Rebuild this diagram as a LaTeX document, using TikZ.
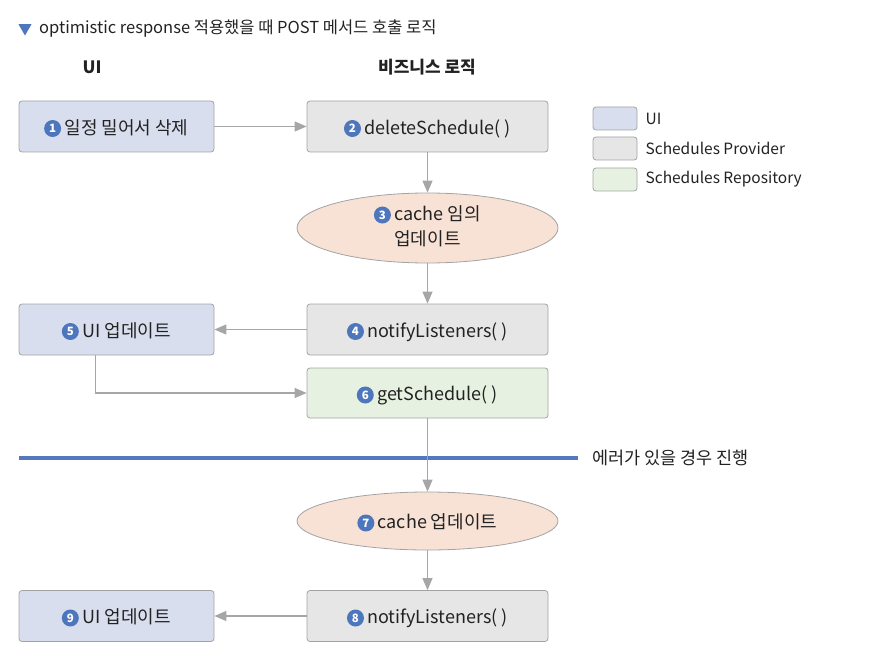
\documentclass[tikz,border=0pt]{standalone}
\usepackage{fontspec}
\setmainfont{Noto Sans CJK KR}
\usetikzlibrary{shapes.geometric,arrows.meta}
\definecolor{uifill}{HTML}{D9DEEF}
\definecolor{provfill}{HTML}{E6E6E6}
\definecolor{repofill}{HTML}{E7F1E1}
\definecolor{cachefill}{HTML}{F8E1D5}
\definecolor{edgegray}{HTML}{A6A6A6}
\definecolor{boxborder}{HTML}{A3A3A3}
\definecolor{numblue}{HTML}{4E76BD}
\definecolor{lineblue}{HTML}{5478BE}
\definecolor{txt}{HTML}{222222}
\tikzset{
  boxbase/.style={draw=boxborder,line width=0.8pt,rounded corners=3pt,minimum height=51pt,inner sep=0pt},
  uibox/.style={boxbase,fill=uifill,minimum width=195pt},
  provbox/.style={boxbase,fill=provfill,minimum width=241pt},
  repobox/.style={boxbase,fill=repofill,minimum width=241pt,minimum height=50pt},
  cacheell/.style={ellipse,draw=boxborder,line width=0.8pt,fill=cachefill,minimum width=261pt,inner sep=0pt},
  lbl/.style={text=txt,font=\fontsize{18}{21}\selectfont,inner sep=0pt,text height=15.8pt,text depth=0pt},
  numc/.style={circle,fill=numblue,inner sep=0pt,minimum size=17pt,text=white,font=\bfseries\fontsize{11.5}{11.5}\selectfont,anchor=east},
  legbox/.style={draw=boxborder,line width=0.8pt,rounded corners=3pt,minimum width=44pt,minimum height=23pt,inner sep=0pt},
  legtxt/.style={anchor=west,text=txt,font=\fontsize{15.5}{18}\selectfont,inner sep=0pt},
  conn/.style={draw=edgegray,line width=1.2pt,-{Triangle[length=12pt,width=10pt]}},
  hdr/.style={text=txt,font=\bfseries\fontsize{17}{20}\selectfont,inner sep=0pt}
}
\begin{document}
\begin{tikzpicture}[x=1pt,y=-1pt]
\useasboundingbox (0,0) rectangle (891,671);
% title
\node[fill=numblue,isosceles triangle,isosceles triangle apex angle=60,shape border rotate=-90,inner sep=0pt,minimum height=11pt,minimum width=13pt] (tri) at (25,28) {};
\node[anchor=west,text=txt,font=\fontsize{16.5}{18}\selectfont,inner sep=0pt] (title) at (39,29) {optimistic response 적용했을 때 POST 메서드 호출 로직};
% headers
\node[hdr] (h1) at (92,67) {UI};
\node[hdr] (h2) at (427,67) {비즈니스 로직};
% boxes
\node[uibox] (n1) at (116.5,126.5) {};
\node[provbox] (n2) at (427.5,126.5) {};
\node[cacheell,minimum height=70pt] (n3) at (427.5,228) {};
\node[provbox] (n4) at (427.5,329.5) {};
\node[uibox] (n5) at (116.5,329.5) {};
\node[repobox] (n6) at (427.5,393) {};
\node[cacheell,minimum height=58pt] (n7) at (427.5,521) {};
\node[provbox] (n8) at (427.5,616) {};
\node[uibox] (n9) at (116.5,616) {};
% labels
\node[lbl] (n1t) at ([xshift=10pt]n1.center) {일정 밀어서 삭제};
\node[lbl] (n2t) at ([xshift=10pt]n2.center) {deleteSchedule( )};
\node[lbl] (n3t) at ([xshift=10pt,yshift=15pt]n3.center) {cache 임의};
\node[lbl] (n3u) at ([yshift=-9.4pt]n3.center) {업데이트};
\node[lbl] (n4t) at ([xshift=10pt]n4.center) {notifyListeners( )};
\node[lbl] (n5t) at ([xshift=10pt]n5.center) {UI 업데이트};
\node[lbl] (n6t) at ([xshift=10pt]n6.center) {getSchedule( )};
\node[lbl] (n7t) at ([xshift=10pt]n7.center) {cache 업데이트};
\node[lbl] (n8t) at ([xshift=10pt]n8.center) {notifyListeners( )};
\node[lbl] (n9t) at ([xshift=10pt]n9.center) {UI 업데이트};
% number badges
\node[numc] (n1c) at ([xshift=-3pt,yshift=-2pt]n1t.west) {1};
\node[numc] (n2c) at ([xshift=-3pt,yshift=-2pt]n2t.west) {2};
\node[numc] (n3c) at ([xshift=-3pt,yshift=-2pt]n3t.west) {3};
\node[numc] (n4c) at ([xshift=-3pt,yshift=-2pt]n4t.west) {4};
\node[numc] (n5c) at ([xshift=-3pt,yshift=-2pt]n5t.west) {5};
\node[numc] (n6c) at ([xshift=-3pt,yshift=-2pt]n6t.west) {6};
\node[numc] (n7c) at ([xshift=-3pt,yshift=-2pt]n7t.west) {7};
\node[numc] (n8c) at ([xshift=-3pt,yshift=-2pt]n8t.west) {8};
\node[numc] (n9c) at ([xshift=-3pt,yshift=-2pt]n9t.west) {9};
% error line
\coordinate (l1) at (19,458);
\coordinate (l2) at (578,458);
\draw[lineblue,line width=4pt] (l1) -- (l2);
\node[anchor=west,text=txt,font=\fontsize{17.5}{20}\selectfont,inner sep=0pt] (err) at (592,458) {에러가 있을 경우 진행};
% legend
\node[legbox,fill=uifill] (lg1) at (615,118.5) {};
\node[legbox,fill=provfill] (lg2) at (615,148.5) {};
\node[legbox,fill=repofill] (lg3) at (615,179.5) {};
\node[legtxt] (lt1) at ([xshift=8pt]lg1.east) {UI};
\node[legtxt] (lt2) at ([xshift=8pt]lg2.east) {Schedules Provider};
\node[legtxt] (lt3) at ([xshift=8pt]lg3.east) {Schedules Repository};
% connectors
\draw[conn] (n1) -- (n2);
\draw[conn] (n2) -- (n3);
\draw[conn] (n3) -- (n4);
\draw[conn] (n4) -- (n5);
\draw[conn] (n5.south west) ++(77,0) coordinate (c5) (c5) |- (n6.west);
\draw[conn] (n6) -- (n7);
\draw[conn] (n7) -- (n8);
\draw[conn] (n8) -- (n9);
\end{tikzpicture}
\end{document}
